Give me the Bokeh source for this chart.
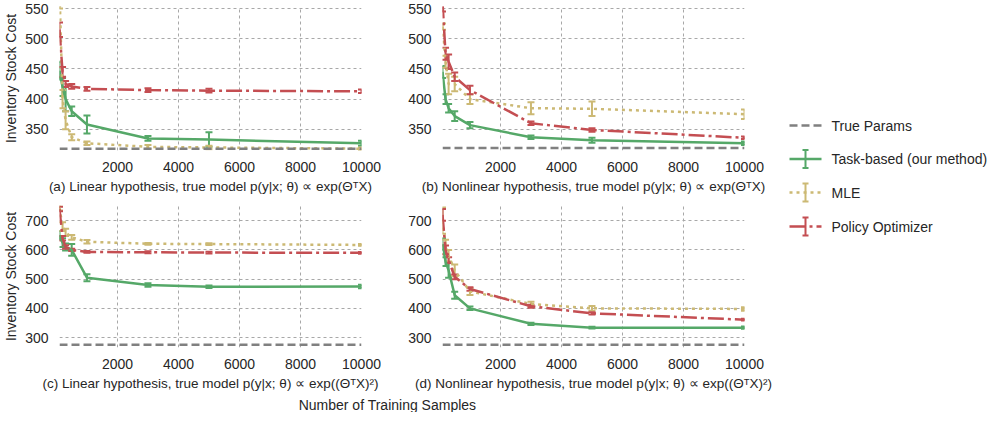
import numpy as np
from bokeh.plotting import figure
from bokeh.models import (ColumnDataSource, Whisker, TeeHead, FixedTicker,
                          Range1d, Span, Label)
from bokeh.layouts import row, column
from bokeh.embed import file_html
from bokeh.resources import INLINE

# ---------------- data ----------------
samples = [100, 200, 300, 500, 1000, 3000, 5000, 10000]
x_ticks = [2000, 4000, 6000, 8000, 10000]
y_ticks_top = [350, 400, 450, 500, 550]
y_ticks_bottom = [300, 400, 500, 600, 700]

# (a) Linear hypothesis, true model exp(Theta^T X)
a_task = [447, 420, 400, 380, 358, 335, 333, 327]
a_task_err = [15, 15, 20, 8, 15, 4, 12, 4]
a_mle = [580, 400, 365, 337, 327, 321, 320, 318]
a_mle_err = [30, 15, 15, 5, 3, 3, 3, 2]
a_pol = [515, 445, 425, 421, 417, 415, 414, 413]
a_pol_err = [12, 8, 5, 4, 3, 3, 3, 3]
a_true = 318

# (b) Nonlinear hypothesis, true model exp(Theta^T X)
b_task = [445, 400, 385, 372, 357, 337, 332, 327]
b_task_err = [10, 8, 7, 8, 5, 3, 4, 3]
b_mle = [520, 462, 425, 425, 400, 385, 384, 375]
b_mle_err = [5, 10, 17, 12, 8, 10, 12, 8]
b_pol = [560, 475, 462, 437, 415, 360, 349, 336]
b_pol_err = [15, 10, 12, 7, 7, 3, 3, 2]
b_true = 319

# (c) Linear hypothesis, true model exp((Theta^T X)^2)
c_task = [650, 625, 610, 600, 505, 480, 474, 475]
c_task_err = [15, 15, 12, 20, 12, 6, 4, 6]
c_mle = [745, 680, 660, 643, 628, 621, 620, 617]
c_mle_err = [10, 15, 12, 8, 6, 3, 3, 3]
c_pol = [740, 640, 610, 600, 593, 592, 591, 590]
c_pol_err = [8, 8, 6, 4, 3, 3, 3, 3]
c_true = 275

# (d) Nonlinear hypothesis, true model exp((Theta^T X)^2)
d_task = [620, 560, 530, 445, 400, 347, 334, 334]
d_task_err = [20, 15, 25, 12, 6, 4, 3, 4]
d_mle = [700, 610, 580, 530, 458, 415, 400, 398]
d_mle_err = [45, 25, 20, 20, 12, 8, 8, 6]
d_pol = [720, 600, 565, 508, 466, 407, 383, 361]
d_pol_err = [20, 15, 10, 8, 6, 5, 4, 3]
d_true = 275

captions = [
    "(a) Linear hypothesis, true model p(y|x; θ) ∝ exp(ΘᵀX)",
    "(b) Nonlinear hypothesis, true model p(y|x; θ) ∝ exp(ΘᵀX)",
    "(c) Linear hypothesis, true model p(y|x; θ) ∝ exp((ΘᵀX)²)",
    "(d) Nonlinear hypothesis, true model p(y|x; θ) ∝ exp((ΘᵀX)²)",
]
series_names = ["True Params", "Task-based (our method)", "MLE", "Policy Optimizer"]

# ---------------- style ----------------
FONT = "Liberation Sans"
TXT = "#262626"
GRAY = "#808080"
GREEN = "#55a868"
YELLOW = "#ccb974"
RED = "#c44e52"
DASH_TRUE = "8 4"
DASH_MLE = "3 4"
DASH_POL = "16 4 3 4"
LW = 2.5
FRAME_W = 302


def panel(caption, task, task_err, mle, mle_err, pol, pol_err, true_val,
          yr, yticks, ylabel, left, right, top, frame_h, bottom):
    p = figure(frame_width=FRAME_W, frame_height=frame_h, output_backend="svg",
               toolbar_location=None, x_range=Range1d(samples[0], samples[-1]),
               y_range=Range1d(*yr), min_border_left=left, min_border_right=right,
               min_border_top=top, min_border_bottom=bottom)
    p.outline_line_color = None
    p.background_fill_color = "white"
    p.xaxis.ticker = FixedTicker(ticks=x_ticks)
    p.yaxis.ticker = FixedTicker(ticks=yticks)
    for ax in (p.xaxis[0], p.yaxis[0]):
        ax.axis_line_color = None
        ax.major_tick_line_color = None
        ax.minor_tick_line_color = None
        ax.major_label_text_font = FONT
        ax.major_label_text_font_size = "14px"
        ax.major_label_text_color = TXT
        ax.axis_label_text_font = FONT
        ax.axis_label_text_font_size = "14px"
        ax.axis_label_text_font_style = "normal"
        ax.axis_label_text_color = TXT
    p.xaxis.axis_label_text_font_size = "13.5px"
    p.xaxis.major_label_standoff = 5
    p.yaxis.major_label_standoff = 5
    p.xaxis.axis_label = caption
    p.xaxis.axis_label_standoff = 4
    if ylabel:
        p.yaxis.axis_label = ylabel
        p.yaxis.axis_label_standoff = 3
    for g in (p.xgrid[0], p.ygrid[0]):
        g.grid_line_color = "#a8a8a8"
        g.grid_line_dash = "3 3"
        g.grid_line_width = 1

    p.add_layout(Span(location=true_val, dimension="width", line_color=GRAY,
                      line_width=LW, line_dash=DASH_TRUE))

    for vals, errs, color, dash in ((task, task_err, GREEN, "solid"),
                                    (mle, mle_err, YELLOW, DASH_MLE),
                                    (pol, pol_err, RED, DASH_POL)):
        src = ColumnDataSource(dict(
            x=samples, y=vals,
            upper=[v + e for v, e in zip(vals, errs)],
            lower=[v - e for v, e in zip(vals, errs)]))
        p.line("x", "y", source=src, line_color=color, line_width=LW, line_dash=dash)
        p.add_layout(Whisker(source=src, base="x", upper="upper", lower="lower",
                             line_color=color, line_width=2,
                             upper_head=TeeHead(size=7, line_color=color, line_width=2),
                             lower_head=TeeHead(size=7, line_color=color, line_width=2)))
    return p


LEFT_W = 50 + FRAME_W + 20
RIGHT_W = 61 + FRAME_W + 35
TOP_H = 6 + 144 + 55
BOT_H = 142 + 45
pa = panel(captions[0], a_task, a_task_err, a_mle, a_mle_err, a_pol, a_pol_err, a_true,
           (315, 553.3), y_ticks_top, "Inventory Stock Cost", 50, 20, 6, 144, 55)
pb = panel(captions[1], b_task, b_task_err, b_mle, b_mle_err, b_pol, b_pol_err, b_true,
           (315, 553.3), y_ticks_top, None, 61, 35, 6, 144, 55)
pc = panel(captions[2], c_task, c_task_err, c_mle, c_mle_err, c_pol, c_pol_err, c_true,
           (266, 752), y_ticks_bottom, "Inventory Stock Cost", 50, 20, 0, 142, 45)
pd = panel(captions[3], d_task, d_task_err, d_mle, d_mle_err, d_pol, d_pol_err, d_true,
           (266, 752), y_ticks_bottom, None, 61, 35, 0, 142, 45)

# common x label
XL_H = 19
xl = figure(width=LEFT_W + RIGHT_W, height=XL_H, output_backend="svg", toolbar_location=None,
            x_range=Range1d(0, 1), y_range=Range1d(0, 1), min_border=0)
xl.axis.visible = False
xl.grid.visible = False
xl.outline_line_color = None
xl.add_layout(Label(x=387, y=8, x_units="screen", y_units="screen",
                    text="Number of Training Samples", text_align="center",
                    text_baseline="middle", text_font=FONT, text_font_size="14px",
                    text_color=TXT))

# legend panel (drawn in pixel units: 1 data unit = 1 px)
TOTAL_H = TOP_H + BOT_H + XL_H
LG_W = 209
lg = figure(width=LG_W, height=TOTAL_H, output_backend="svg", toolbar_location=None,
            x_range=Range1d(0, LG_W), y_range=Range1d(0, TOTAL_H), min_border=0)
lg.axis.visible = False
lg.grid.visible = False
lg.outline_line_color = None
row_y = [TOTAL_H - 125, TOTAL_H - 158.5, TOTAL_H - 192, TOTAL_H - 226]
styles = [(GRAY, DASH_TRUE, False), (GREEN, "solid", True),
          (YELLOW, DASH_MLE, True), (RED, DASH_POL, True)]
for name, yy, (color, dash, bar) in zip(series_names, row_y, styles):
    lg.segment(x0=10, y0=yy, x1=42, y1=yy, line_color=color, line_width=LW,
               line_dash=dash)
    if bar:
        lg.segment(x0=[26, 23, 23], y0=[yy - 9, yy - 9, yy + 9],
                   x1=[26, 29, 29], y1=[yy + 9, yy - 9, yy + 9],
                   line_color=color, line_width=2)
    lg.add_layout(Label(x=52, y=yy, text=name, text_baseline="middle",
                        text_align="left", text_font=FONT, text_font_size="14px",
                        text_color=TXT))

layout = row(column(row(pa, pb), row(pc, pd), xl), lg)
open("out.html", "w").write(file_html(layout, INLINE))
